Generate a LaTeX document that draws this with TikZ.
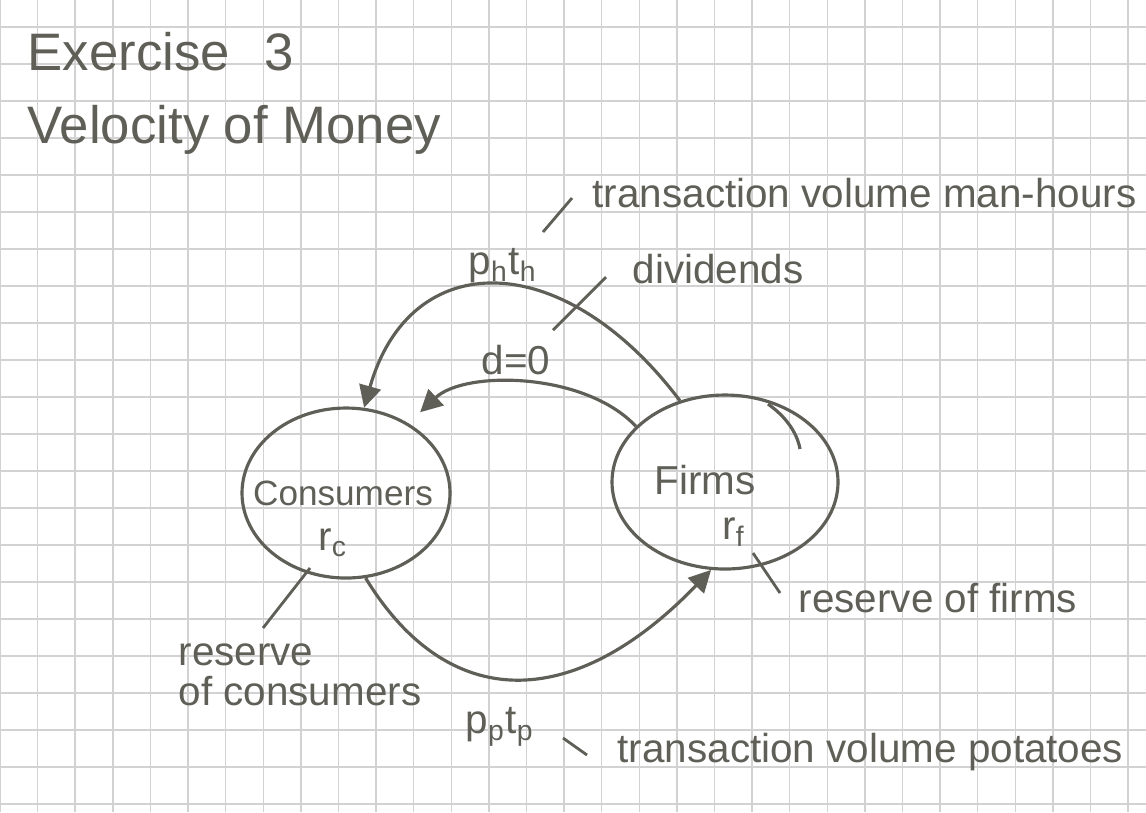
\documentclass[tikz,border=0pt]{standalone}
\usepackage{fontspec}
\setmainfont{Liberation Sans}
\usepackage{tikz}
\usetikzlibrary{shapes.geometric,arrows.meta,calc}
\definecolor{pencil}{RGB}{95,95,88}
\definecolor{gridgray}{RGB}{210,210,210}

\begin{document}
\begin{tikzpicture}[x=0.1mm, y=-0.1mm,
  pen/.style={pencil, line width=0.9pt},
  flow/.style={pen, -{Triangle[length=2.2mm,width=2.2mm]}},
  leader/.style={pencil, line width=0.8pt},
  sector/.style={ellipse, draw=pencil, line width=0.9pt, inner sep=0pt},
  hand/.style={text=pencil, inner sep=0pt, font=\fontsize{11.5}{14}\selectfont},
  heading/.style={text=pencil, inner sep=0pt, anchor=base west, font=\fontsize{15}{18}\selectfont}]

  \useasboundingbox (0,0) rectangle (1146,812);

  % ---- squared paper ----
  \fill[white] (0,0) rectangle (1146,812);
  \foreach \i in {0,...,30} \draw[gridgray, line width=0.4pt] ({37.6*\i},0) -- ({37.6*\i},812);
  \foreach \j in {0,...,21} \draw[gridgray, line width=0.4pt] (0,{27+37*\j}) -- (1146,{27+37*\j});

  % ---- heading ----
  \node[heading] (ex) at (27,70) {Exercise\hspace{0.65em}3};
  \node[heading] (vel) at (27,143) {Velocity of Money};

  % ---- the two sectors ----
  \node[sector, minimum width=20.8mm, minimum height=17mm] (cons) at (346,493) {};
  \node[sector, minimum width=22.6mm, minimum height=17.4mm] (firms) at (725,482) {};
  \node[hand, font=\fontsize{10}{12}\selectfont] (consname) at (343,493) {Consumers};
  \node[hand] (rc) at (333,543) {$\mathrm{r_c}$};
  \node[hand] (firmsname) at (705,480) {Firms};
  \node[hand] (rf) at (734,532) {$\mathrm{r_f}$};
  % pencil went round twice at top right
  \draw[pen] (768,404) .. controls (785,416) and (797,432) .. (800,449);

  % ---- money flows ----
  \draw[flow] (firms.119) .. controls (563,246) and (410,246) .. (cons.78);
  \draw[flow] (firms.148) .. controls (585,372) and (465,370) .. ($(cons.47)+(10,-12)$);
  \draw[flow] (cons.-77) .. controls (448,713) and (573,713) .. (firms.-99);

  % flow labels
  \node[hand] (ph) at (503,266) {$\mathrm{p_h t_h}$};
  \node[hand] (d0) at (516,360) {d=0};
  \node[hand] (pp) at (500,727) {$\mathrm{p_p t_p}$};

  % ---- notes ----
  \node[hand, anchor=base west] (mh) at (592,207) {transaction volume man-hours};
  \node[hand, anchor=base west] (div) at (632,283) {dividends};
  \node[hand, anchor=base west] (rfnote) at (798,612) {reserve of firms};
  \node[hand, anchor=north west, align=left, font=\fontsize{11.5}{11.5}\selectfont] (rcnote) at (178,643) {reserve\\of consumers};
  \node[hand, anchor=base west] (pot) at (617,762) {transaction volume potatoes};

  % leader ticks
  \coordinate (mhA) at (543,232);  \coordinate (mhB) at (572,198);
  \coordinate (divA) at (553,330); \coordinate (divB) at (606,277);
  \coordinate (rcA) at (263,628);  \coordinate (rcB) at (310,568);
  \coordinate (rfA) at (753,553);  \coordinate (rfB) at (780,593);
  \coordinate (potA) at (563,738); \coordinate (potB) at (587,755);
  \draw[leader] (mhA) -- (mhB);
  \draw[leader] (divA) -- (divB);
  \draw[leader] (rcA) -- (rcB);
  \draw[leader] (rfA) -- (rfB);
  \draw[leader] (potA) -- (potB);

\end{tikzpicture}
\end{document}
